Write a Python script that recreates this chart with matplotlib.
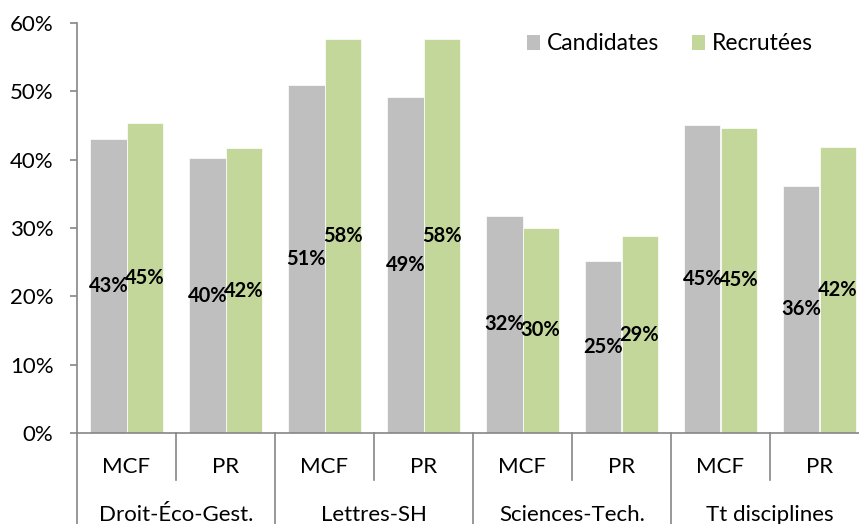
import matplotlib
matplotlib.use("Agg")
import matplotlib.pyplot as plt
import numpy as np
from matplotlib.patches import Patch
from matplotlib.ticker import FuncFormatter

#   Data    #
groups      = ["Droit-Éco-Gest.", "Lettres-SH", "Sciences-Tech.", "Tt disciplines"]
corps       = ["MCF", "PR", "MCF", "PR", "MCF", "PR", "MCF", "PR"]
candidates  = [43.0, 40.2, 51.0, 49.2, 31.8, 25.1, 45.1, 36.2]
recrutees   = [45.4, 41.7, 57.6, 57.6, 30.0, 28.8, 44.7, 41.9]
series      = ["Candidates", "Recrutées"]

#   Style   #
plt.rcParams['font.family'] = ['Lato', 'DejaVu Sans']
GREY, GREEN, AXIS = '#BFBFBF', '#C4D79B', '#868686'
W, H = 859, 524

fig = plt.figure(figsize=(W / 100, H / 100), dpi=100)
ax = fig.add_axes([77 / W, (H - 433) / H, 792 / W, 410 / H])

x = np.arange(len(corps))
width = 0.364
b1 = ax.bar(x - width / 2, candidates, width=width, color=GREY, edgecolor='white', linewidth=0.5)
b2 = ax.bar(x + width / 2, recrutees, width=width, color=GREEN, edgecolor='white', linewidth=0.5)

for bars in (b1, b2):
    ax.bar_label(bars, fmt='%.0f%%', label_type='center', fontsize=14.5, fontweight='bold')

ax.set_xlim(-0.5, len(corps) - 0.5)
ax.set_ylim(0, 60)
ax.set_yticks(range(0, 61, 10))
ax.yaxis.set_major_formatter(FuncFormatter(lambda v, p: '%d%%' % v))
ax.tick_params(axis='y', length=5, width=1.2, color=AXIS, pad=12, labelsize=16)
ax.set_xticks([])

for s in ['top', 'right']:
    ax.spines[s].set_visible(False)
for s in ['left', 'bottom']:
    ax.spines[s].set_color(AXIS)
    ax.spines[s].set_linewidth(1.2)

#   Hierarchical category axis  #
trans = ax.get_xaxis_transform()
for i in range(len(corps) + 1):
    pos = i - 0.5
    low = -0.25 if i % 2 == 0 else -0.115
    ax.plot([pos, pos], [0, low], transform=trans, color=AXIS, lw=1.2, clip_on=False)

for i, lab in enumerate(corps):
    ax.text(i, -34 / 410, lab, transform=trans, ha='center', va='center', fontsize=16)
for j, g in enumerate(groups):
    ax.text(2 * j + 0.5, -82 / 410, g, transform=trans, ha='center', va='center', fontsize=16)

#   Legend  #
handles = [Patch(facecolor=GREY), Patch(facecolor=GREEN)]
fig.legend(handles, series, loc='center', bbox_to_anchor=(670 / W, 1 - 44 / H),
           ncol=2, frameon=False, fontsize=16.5, handlelength=0.6, handleheight=0.6,
           handletextpad=0.3, columnspacing=1.4)

fig.savefig("out.png", dpi=100)
